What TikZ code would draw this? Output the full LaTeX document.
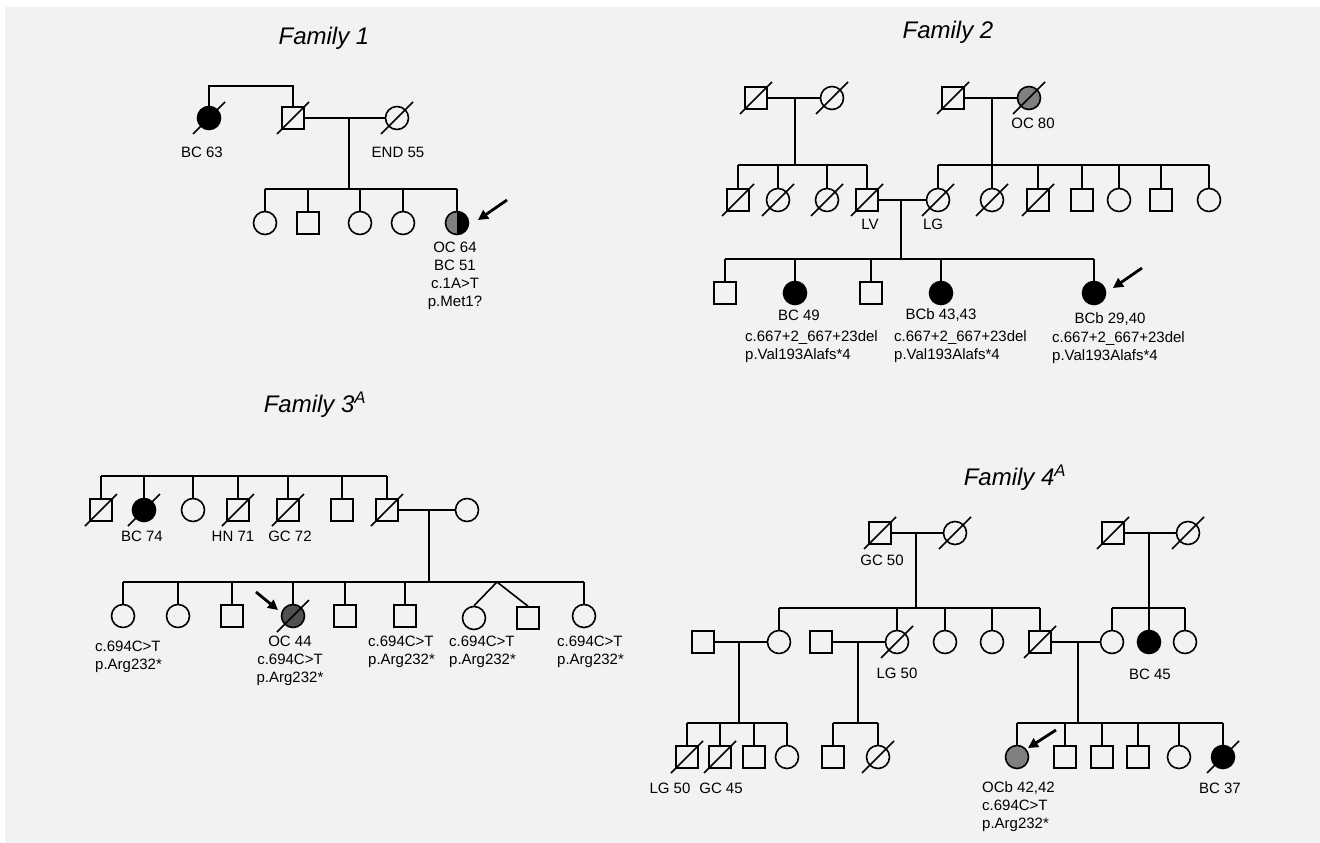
\documentclass[tikz,border=0pt]{standalone}
\usepackage{fontspec}
\setmainfont{Liberation Sans}
\usetikzlibrary{arrows.meta}

\definecolor{bggray}{HTML}{F2F2F2}
\definecolor{midgray}{HTML}{808080}
\definecolor{dkgray}{HTML}{505050}

\newcommand\labfont{\fontsize{15}{18}\selectfont}
\newcommand\titfont{\fontsize{24}{28}\selectfont\itshape}
% slash through a deceased person
\newcommand\dead[1]{\draw[pline] ([shift={(-16,16)}]#1.center) -- ([shift={(16,-16)}]#1.center);}

\tikzset{
  pline/.style={line width=1.6pt},
  male/.style={draw, line width=1.6pt, rectangle, minimum size=22pt, inner sep=0pt},
  female/.style={draw, line width=1.6pt, circle, minimum size=23pt, inner sep=0pt},
  aff/.style={fill=black},
  halfaff/.style={fill=black, path picture={\fill[midgray] (path picture bounding box.south west) rectangle (path picture bounding box.north);}},
  txt/.style={font=\labfont, inner sep=0pt},
  famtitle/.style={font=\titfont, inner sep=0pt},
  proarrow/.style={-{Triangle[length=10pt,width=10pt]}, line width=2.8pt},
}

\begin{document}
\begin{tikzpicture}[x=1pt,y=-1pt]
  \useasboundingbox (0,0) rectangle (1320,843);
  \fill[white] (0,0) rectangle (1320,843);
  \fill[bggray] (5,7) rectangle (1321,844);

  % Family 1
  \node[famtitle] (f1title) at (324,38) {Family 1};
  \node[female,aff] (f1aunt) at (209,118) {};
  \node[male] (f1gf) at (293,118) {};
  \node[female] (f1gm) at (397,118) {};
  \coordinate (f1top) at (209,86);
  \coordinate (f1m) at (349,118);
  \coordinate (f1s) at (349,189);
  \draw[pline] (f1aunt) -- (f1top) -- (f1gf |- f1top) -- (f1gf);
  \draw[pline] (f1gf) -- (f1gm);
  \draw[pline] (f1m) -- (f1s);
  \node[female] (f1c1) at (265,223) {};
  \node[male] (f1c2) at (308,223) {};
  \node[female] (f1c3) at (360,223) {};
  \node[female] (f1c4) at (403,223) {};
  \node[female,halfaff] (f1c5) at (457,223) {};
  \draw[pline] (f1c1 |- f1s) -- (f1c5 |- f1s);
  \foreach \n in {f1c1,f1c2,f1c3,f1c4,f1c5} \draw[pline] (\n) -- (\n |- f1s);
  \foreach \n in {f1aunt,f1gf,f1gm} {\dead{\n}}
  \node[txt] (f1l1) at (202,152) {BC 63};
  \node[txt] (f1l2) at (398,152) {END 55};
  \node[txt,align=center] (f1l3) at (455,276) {OC 64\\BC 51\\c.1A>T\\p.Met1?};
  \coordinate (f1a0) at (507,200);
  \coordinate (f1a1) at (478,220);
  \draw[proarrow] (f1a0) -- (f1a1);

  % Family 2
  \node[famtitle] (f2title) at (948,32) {Family 2};
  \node[male] (f2a) at (756,98) {};
  \node[female] (f2b) at (832,98) {};
  \node[male] (f2c) at (953,98) {};
  \node[female,fill=midgray] (f2d) at (1029,98) {};
  \coordinate (f2m1) at (795,98);
  \coordinate (f2s1) at (795,165);
  \coordinate (f2m2) at (992,98);
  \coordinate (f2s2) at (992,165);
  \draw[pline] (f2a) -- (f2b);
  \draw[pline] (f2c) -- (f2d);
  \draw[pline] (f2m1) -- (f2s1);
  \draw[pline] (f2m2) -- (f2s2);
  \node[txt] (f2l0) at (1033,123) {OC 80};
  \node[male] (f2e) at (738,200) {};
  \node[female] (f2f) at (778,200) {};
  \node[female] (f2g) at (827,200) {};
  \node[male] (f2lv) at (867,200) {};
  \node[female] (f2lg) at (938,200) {};
  \node[female] (f2h) at (992,200) {};
  \node[male] (f2i) at (1038,200) {};
  \node[male] (f2j) at (1082,200) {};
  \node[female] (f2k) at (1119,200) {};
  \node[male] (f2l) at (1161,200) {};
  \node[female] (f2n) at (1209,200) {};
  \draw[pline] (f2e |- f2s1) -- (f2lv |- f2s1);
  \draw[pline] (f2lg |- f2s2) -- (f2n |- f2s2);
  \foreach \n in {f2e,f2f,f2g,f2lv} \draw[pline] (\n) -- (\n |- f2s1);
  \foreach \n in {f2lg,f2h,f2i,f2j,f2k,f2l,f2n} \draw[pline] (\n) -- (\n |- f2s2);
  \node[txt] (f2l1) at (870,224) {LV};
  \node[txt] (f2l2) at (933,224) {LG};
  \draw[pline] (f2lv) -- (f2lg);
  \coordinate (f2m3) at (901,200);
  \coordinate (f2s3) at (901,259);
  \draw[pline] (f2m3) -- (f2s3);
  \node[male] (f2o) at (725,293) {};
  \node[female,aff] (f2p) at (795,293) {};
  \node[male] (f2q) at (871,293) {};
  \node[female,aff] (f2r) at (941,293) {};
  \node[female,aff] (f2s) at (1094,293) {};
  \draw[pline] (f2o |- f2s3) -- (f2s |- f2s3);
  \foreach \n in {f2o,f2p,f2q,f2r,f2s} \draw[pline] (\n) -- (\n |- f2s3);
  \foreach \n in {f2a,f2b,f2c,f2d,f2e,f2f,f2g,f2lv,f2lg,f2h,f2i} {\dead{\n}}
  \node[txt] (f2l3) at (799,315) {BC 49};
  \node[txt,align=left,anchor=west] (f2l4) at (745,347) {c.667+2\_667+23del\\p.Val193Alafs*4};
  \node[txt] (f2l5) at (941,315) {BCb 43,43};
  \node[txt,align=left,anchor=west] (f2l6) at (894,347) {c.667+2\_667+23del\\p.Val193Alafs*4};
  \node[txt] (f2l7) at (1110,319) {BCb 29,40};
  \node[txt,align=left,anchor=west] (f2l8) at (1052,348) {c.667+2\_667+23del\\p.Val193Alafs*4};
  \coordinate (f2a0) at (1142,268);
  \coordinate (f2a1) at (1113,288);
  \draw[proarrow] (f2a0) -- (f2a1);

  % Family 3
  \node[famtitle] (f3title) at (315,405) {Family 3\textsuperscript{A}};
  \node[male] (f3a) at (101,510) {};
  \node[female,aff] (f3b) at (144,510) {};
  \node[female] (f3c) at (193,510) {};
  \node[male] (f3d) at (238,510) {};
  \node[male] (f3e) at (288,510) {};
  \node[male] (f3f) at (342,510) {};
  \node[male] (f3g) at (387,510) {};
  \node[female] (f3h) at (467,510) {};
  \coordinate (f3top) at (101,476);
  \draw[pline] (f3top) -- (f3g |- f3top);
  \foreach \n in {f3a,f3b,f3c,f3d,f3e,f3f,f3g} \draw[pline] (\n) -- (\n |- f3top);
  \draw[pline] (f3g) -- (f3h);
  \coordinate (f3m) at (429,510);
  \coordinate (f3s) at (429,582);
  \draw[pline] (f3m) -- (f3s);
  \node[txt] (f3l1) at (142,536) {BC 74};
  \node[txt] (f3l2) at (233,536) {HN 71};
  \node[txt] (f3l3) at (290,536) {GC 72};
  \node[female] (f3i) at (123,616) {};
  \node[female] (f3j) at (178,616) {};
  \node[male] (f3k) at (232,616) {};
  \node[female,fill=dkgray] (f3l) at (293,616) {};
  \node[male] (f3m1) at (345,616) {};
  \node[male] (f3n) at (405,616) {};
  \node[female] (f3o) at (474,618) {};
  \node[male] (f3p) at (528,618) {};
  \node[female] (f3q) at (584,616) {};
  \coordinate (f3tw) at (497,582);
  \draw[pline] (f3i |- f3s) -- (f3q |- f3s);
  \foreach \n in {f3i,f3j,f3k,f3l,f3m1,f3n,f3q} \draw[pline] (\n) -- (\n |- f3s);
  \draw[pline] (f3o.north) -- (f3tw) -- (f3p.north);
  \foreach \n in {f3a,f3b,f3d,f3e,f3g,f3l} {\dead{\n}}
  \node[txt,align=left,anchor=west] (f3l4) at (95,657) {c.694C>T\\p.Arg232*};
  \node[txt,align=center] (f3l5) at (290,661) {OC 44\\c.694C>T\\p.Arg232*};
  \node[txt,align=left,anchor=west] (f3l6) at (368,652) {c.694C>T\\p.Arg232*};
  \node[txt,align=left,anchor=west] (f3l7) at (449,652) {c.694C>T\\p.Arg232*};
  \node[txt,align=left,anchor=west] (f3l8) at (557,652) {c.694C>T\\p.Arg232*};
  \coordinate (f3a0) at (256,592);
  \coordinate (f3a1) at (278,610);
  \draw[proarrow] (f3a0) -- (f3a1);

  % Family 4
  \node[famtitle] (f4title) at (1015,478) {Family 4\textsuperscript{A}};
  \node[male] (f4a) at (880,533) {};
  \node[female] (f4b) at (955,533) {};
  \node[male] (f4c) at (1113,533) {};
  \node[female] (f4d) at (1188,533) {};
  \draw[pline] (f4a) -- (f4b);
  \draw[pline] (f4c) -- (f4d);
  \coordinate (f4m1) at (916,533);
  \coordinate (f4s1) at (916,608);
  \coordinate (f4m2) at (1149,533);
  \coordinate (f4s2) at (1149,608);
  \draw[pline] (f4m1) -- (f4s1);
  \draw[pline] (f4m2) -- (f4s2);
  \node[txt] (f4l0) at (882,560) {GC 50};
  \node[male] (f4e) at (703,642) {};
  \node[female] (f4f) at (779,642) {};
  \node[male] (f4g) at (821,642) {};
  \node[female] (f4h) at (897,642) {};
  \node[female] (f4i) at (945,642) {};
  \node[female] (f4j) at (992,642) {};
  \node[male] (f4k) at (1040,642) {};
  \node[female] (f4l) at (1112,642) {};
  \node[female,aff] (f4m) at (1149,642) {};
  \node[female] (f4n) at (1185,642) {};
  \draw[pline] (f4f |- f4s1) -- (f4k |- f4s1);
  \draw[pline] (f4l |- f4s2) -- (f4n |- f4s2);
  \foreach \n in {f4f,f4h,f4i,f4j,f4k} \draw[pline] (\n) -- (\n |- f4s1);
  \foreach \n in {f4l,f4m,f4n} \draw[pline] (\n) -- (\n |- f4s2);
  \node[txt] (f4l1) at (897,673) {LG 50};
  \node[txt] (f4l2) at (1150,674) {BC 45};
  \draw[pline] (f4e) -- (f4f);
  \draw[pline] (f4g) -- (f4h);
  \draw[pline] (f4k) -- (f4l);
  \coordinate (f4m3) at (739,642);
  \coordinate (f4s3) at (739,723);
  \coordinate (f4m4) at (858,642);
  \coordinate (f4s4) at (858,723);
  \coordinate (f4m5) at (1078,642);
  \coordinate (f4s5) at (1078,723);
  \draw[pline] (f4m3) -- (f4s3);
  \draw[pline] (f4m4) -- (f4s4);
  \draw[pline] (f4m5) -- (f4s5);
  \node[male] (f4o) at (687,757) {};
  \node[male] (f4p) at (720,757) {};
  \node[male] (f4q) at (754,757) {};
  \node[female] (f4r) at (787,757) {};
  \node[male] (f4s) at (833,757) {};
  \node[female] (f4t) at (878,757) {};
  \node[female,fill=midgray] (f4u) at (1017,757) {};
  \node[male] (f4v) at (1065,757) {};
  \node[male] (f4w) at (1102,757) {};
  \node[male] (f4x) at (1138,757) {};
  \node[female] (f4y) at (1179,757) {};
  \node[female,aff] (f4z) at (1223,757) {};
  \draw[pline] (f4o |- f4s3) -- (f4r |- f4s3);
  \draw[pline] (f4s |- f4s4) -- (f4t |- f4s4);
  \draw[pline] (f4u |- f4s5) -- (f4z |- f4s5);
  \foreach \n in {f4o,f4p,f4q,f4r} \draw[pline] (\n) -- (\n |- f4s3);
  \foreach \n in {f4s,f4t} \draw[pline] (\n) -- (\n |- f4s4);
  \foreach \n in {f4u,f4v,f4w,f4x,f4y,f4z} \draw[pline] (\n) -- (\n |- f4s5);
  \foreach \n in {f4a,f4b,f4c,f4d,f4h,f4k,f4o,f4p,f4t,f4z} {\dead{\n}}
  \node[txt] (f4l3) at (670,788) {LG 50};
  \node[txt] (f4l4) at (721,788) {GC 45};
  \node[txt,align=left,anchor=west] (f4l5) at (982,807) {OCb 42,42\\c.694C>T\\p.Arg232*};
  \node[txt] (f4l6) at (1220,788) {BC 37};
  \coordinate (f4a0) at (1056,730);
  \coordinate (f4a1) at (1028,748);
  \draw[proarrow] (f4a0) -- (f4a1);
\end{tikzpicture}
\end{document}
